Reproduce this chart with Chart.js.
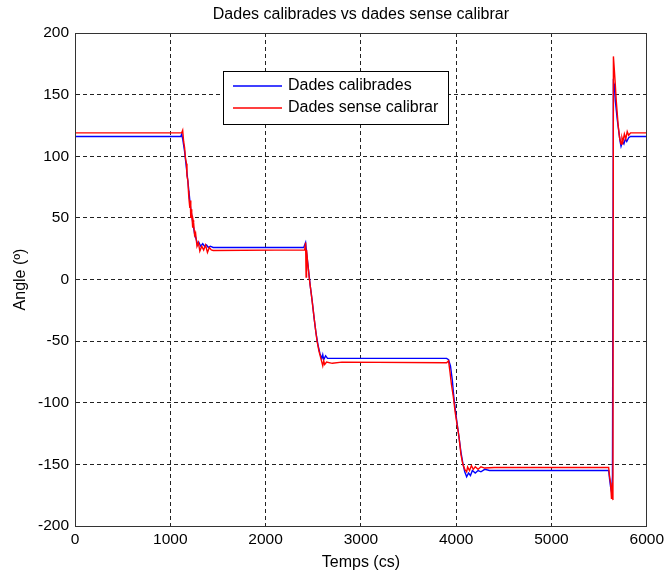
<!DOCTYPE html>
<html>
<head>
<meta charset="utf-8">
<script src="https://cdn.jsdelivr.net/npm/chart.js@4.4.1/dist/chart.umd.min.js"></script>
<style>
html,body{margin:0;padding:0;background:#fff;}
#wrap{width:668px;height:576px;position:relative;}
</style>
</head>
<body>
<div id="wrap"><canvas id="c" width="668" height="576"></canvas></div>
<script>
// ---- data ----
const chartTitle = "Dades calibrades vs dades sense calibrar";
const xTitle = "Temps (cs)";
const yTitle = "Angle (º)";
const seriesNames = ["Dades calibrades", "Dades sense calibrar"];

const blueTime = [0,1,1110,1120,1130,1150,1170,1180,1200,1210,1225,1240,1255,1270,1290,1300,1320,1340,1360,1380,1400,1420,1450,
  2400,2410,2420,2430,2450,2470,2490,2510,2530,2550,2570,2590,2600,2610,2630,2650,
  3900,3920,3940,3960,3975,3990,4010,4030,4050,4070,4090,4110,4130,4150,4170,4200,4230,4260,4300,4350,
  5600,5610,5620,5630,5640,5650,5660,5670,5690,5710,5720,5730,5745,5760,5775,5790,5810,5830,6000];
const blueAngle = [90,116,116,118,114,104,90,83,68,60,52,44,37,33,28,30,27,29,27,28,26,27,26,
  26,28,30,22,8,-6,-18,-32,-44,-53,-60,-64,-61,-65,-62,-64,
  -64,-65,-70,-82,-95,-105,-117,-128,-140,-149,-156,-160,-157,-159,-155,-157,-155,-156,-154,-155,
  -155,-162,-168,-172,-160,160,158,145,130,118,112,108,112,110,114,112,115,116,116];

const redTime = [0,1,1120,1130,1140,1150,1160,1170,1175,1185,1190,1195,1205,1210,1215,1220,1225,1235,1240,1245,1255,1265,1280,1295,1310,1330,1350,1370,1390,1410,1430,1450,
  2410,2420,2425,2430,2440,2460,2480,2500,2520,2540,2560,2580,2600,2610,2620,2640,2700,2800,
  3900,3920,3935,3950,3970,3990,4010,4030,4050,4070,4090,4110,4120,4140,4160,4180,4200,4230,4260,4300,4400,5000,
  5600,5610,5620,5630,5640,5645,5650,5660,5670,5680,5690,5700,5715,5730,5740,5750,5765,5780,5795,5810,5830,6000];
const redAngle = [103,119,119,121,112,107,98,94,84,80,72,66,58,64,50,57,54,42,48,46,36,38,27,30,23,27,24,28,22,26,24,23.5,
  24,30,2,24,15,0,-12,-25,-38,-50,-58,-64,-70,-66,-69,-67,-68,-67,
  -67.5,-66,-75,-85,-95,-108,-118,-128,-142,-150,-154,-156,-152,-155,-151,-154,-152,-154,-152,-153,-152.5,-152.5,
  -152.5,-160,-165,-178,-165,-179,181,170,158,145,135,125,115,110,115,112,118,114,120,117,119,119];

const xMin = 0, xMax = 6000, xStep = 1000;
const yMin = -200, yMax = 200, yStep = 50;

const zip = (xs, ys) => xs.map((x, i) => ({x: x, y: ys[i]}));
const FONT = "'Liberation Sans', Arial, Helvetica, sans-serif";

const overlay = {
  id: 'overlay',
  afterDraw(chart) {
    const {ctx, chartArea: a} = chart;
    ctx.save();
    ctx.strokeStyle = '#333';
    ctx.lineWidth = 1;
    ctx.strokeRect(Math.round(a.left) + 0.5, Math.round(a.top) + 0.5, Math.round(a.right - a.left) - 1, Math.round(a.bottom - a.top));
    ctx.fillStyle = '#000';
    ctx.font = "16px " + FONT;
    ctx.textAlign = 'center';
    ctx.textBaseline = 'middle';
    ctx.fillText(chartTitle, (a.left + a.right) / 2, 15);
    const lx = 223, ly = 71, lw = 225, lh = 53;
    ctx.fillStyle = '#fff';
    ctx.fillRect(lx, ly, lw, lh);
    ctx.strokeStyle = '#000';
    ctx.strokeRect(lx + 0.5, ly + 0.5, lw, lh);
    const cols = ['#0000ff', '#ff0000'];
    const rows = [86, 108];
    for (let i = 0; i < 2; i++) {
      ctx.strokeStyle = cols[i];
      ctx.lineWidth = 1.3;
      ctx.beginPath();
      ctx.moveTo(233, rows[i]);
      ctx.lineTo(282, rows[i]);
      ctx.stroke();
      ctx.fillStyle = '#000';
      ctx.textAlign = 'left';
      ctx.font = "16px " + FONT;
      ctx.fillText(seriesNames[i], 288, rows[i]);
    }
    ctx.restore();
  }
};

new Chart(document.getElementById('c'), {
  type: 'scatter',
  data: {
    datasets: [
      {label: seriesNames[0], data: zip(blueTime, blueAngle), showLine: true, borderColor: '#0000ff', backgroundColor: '#0000ff', borderWidth: 1.4, pointRadius: 0, order: 1, tension: 0},
      {label: seriesNames[1], data: zip(redTime, redAngle), showLine: true, borderColor: '#ff0000', backgroundColor: '#ff0000', borderWidth: 1.4, pointRadius: 0, order: 0, tension: 0}
    ]
  },
  options: {
    responsive: false,
    animation: false,
    devicePixelRatio: 1,
    layout: {padding: {top: 33, right: 18, left: 0, bottom: 0}},
    plugins: {legend: {display: false}, title: {display: false}, tooltip: {enabled: false}},
    scales: {
      x: {
        type: 'linear', min: xMin, max: xMax,
        afterFit(s) { s.height = 50; },
        ticks: {stepSize: xStep, color: '#000', font: {size: 15.5, family: FONT}, padding: 4, maxRotation: 0,
          callback: v => String(v)},
        grid: {color: '#222', lineWidth: 1, drawTicks: false},
        border: {display: true, color: '#333', dash: [4, 3]},
        title: {display: true, text: xTitle, color: '#000', font: {size: 16, family: FONT}, padding: {top: 0, bottom: 4}}
      },
      y: {
        type: 'linear', min: yMin, max: yMax,
        afterFit(s) { s.width = 75; },
        ticks: {stepSize: yStep, color: '#000', font: {size: 15.5, family: FONT}, padding: 6,
          callback: v => String(v)},
        grid: {color: '#222', lineWidth: 1, drawTicks: false},
        border: {display: true, color: '#333', dash: [4, 3]},
        title: {display: true, text: yTitle, color: '#000', font: {size: 16, family: FONT}, padding: {top: 11, bottom: 0}}
      }
    }
  },
  plugins: [overlay]
});
</script>
</body>
</html>
